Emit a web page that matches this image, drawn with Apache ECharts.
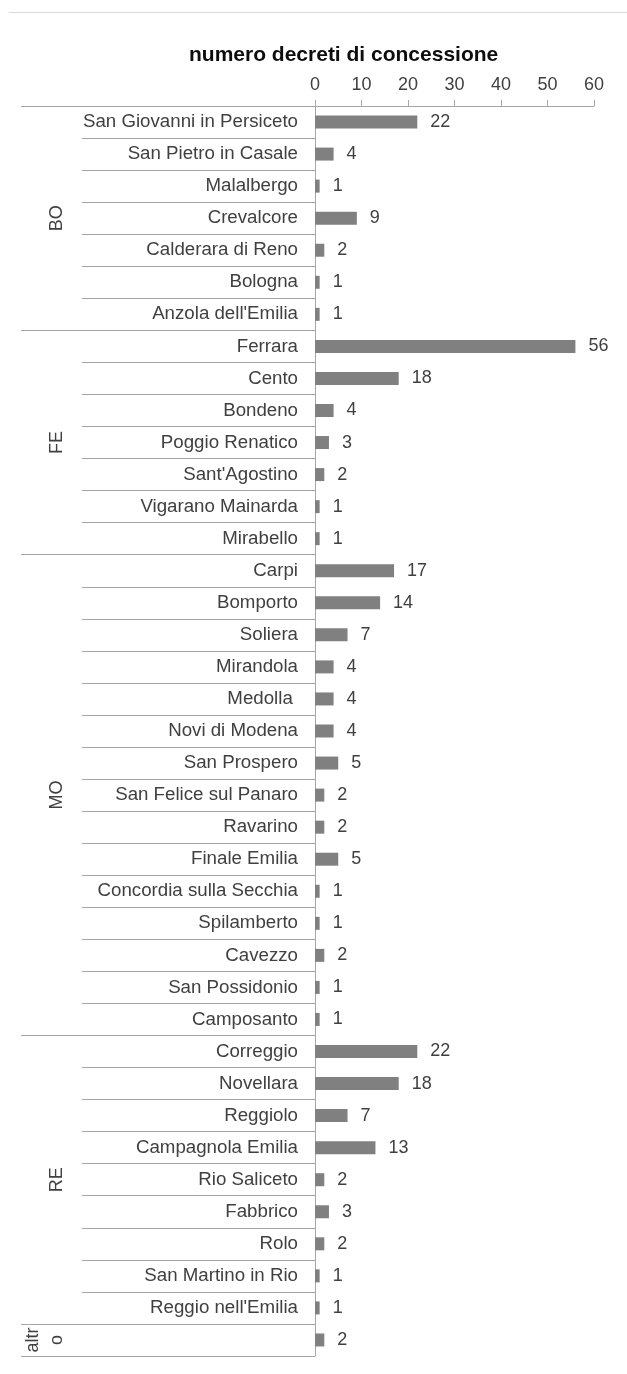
<!DOCTYPE html>
<html>
<head>
<meta charset="utf-8">
<script src="https://cdn.jsdelivr.net/npm/echarts@6.0.0/dist/echarts.min.js"></script>
<style>
html, body { margin: 0; padding: 0; background: #fff; }
#chart { width: 627px; height: 1374px; }
</style>
</head>
<body>
<div id="chart"></div>
<script>
// comuni e numero di decreti, nell'ordine del grafico (dall'alto)
const comuni = [
  'San Giovanni in Persiceto', 'San Pietro in Casale', 'Malalbergo', 'Crevalcore',
  'Calderara di Reno', 'Bologna', "Anzola dell'Emilia",
  'Ferrara', 'Cento', 'Bondeno', 'Poggio Renatico', "Sant'Agostino", 'Vigarano Mainarda', 'Mirabello',
  'Carpi', 'Bomporto', 'Soliera', 'Mirandola', 'Medolla ', 'Novi di Modena', 'San Prospero',
  'San Felice sul Panaro', 'Ravarino', 'Finale Emilia', 'Concordia sulla Secchia', 'Spilamberto',
  'Cavezzo', 'San Possidonio', 'Camposanto',
  'Correggio', 'Novellara', 'Reggiolo', 'Campagnola Emilia', 'Rio Saliceto', 'Fabbrico', 'Rolo',
  'San Martino in Rio', "Reggio nell'Emilia",
  ''
]
const decreti = [
  22, 4, 1, 9, 2, 1, 1,
  56, 18, 4, 3, 2, 1, 1,
  17, 14, 7, 4, 4, 4, 5, 2, 2, 5, 1, 1, 2, 1, 1,
  22, 18, 7, 13, 2, 3, 2, 1, 1,
  2
]
const province = ['BO', 'FE', 'MO', 'RE', 'altro']
const numComuni = [7, 7, 15, 9, 1]
const xTicks = [0, 60, 10] // min, max, passo

// provincia di ogni riga, e indici di inizio / centro dei gruppi
var provRiga = []
var inizioGruppo = []
var centroGruppo = []
for (var g = 0; g < province.length; g++) {
  inizioGruppo.push(provRiga.length)
  centroGruppo.push(provRiga.length + (numComuni[g] - 1) / 2)
  for (var k = 0; k < numComuni[g]; k++) provRiga.push(province[g])
}

const font = "'Liberation Sans', Arial, sans-serif"
const grigio = '#a6a6a6'
const testo = '#404040'

var chart = echarts.init(document.getElementById('chart'))
chart.setOption({
  animation: false,
  title: {
    text: 'numero decreti di concessione',
    left: 189,
    top: 45,
    padding: 0,
    textStyle: { fontFamily: font, fontSize: 21, fontWeight: 'bold', color: '#0d0d0d' }
  },
  graphic: [{
    type: 'line',
    shape: { x1: 9, y1: 12.5, x2: 627, y2: 12.5 },
    style: { stroke: '#d9d9d9', lineWidth: 1 }
  }],
  grid: {
    left: 315,
    right: 33,
    top: 106,
    height: 1250,
    containLabel: false,
    outerBoundsMode: 'none'
  },
  xAxis: {
    type: 'value',
    position: 'top',
    min: xTicks[0],
    max: xTicks[1],
    interval: xTicks[2],
    axisLine: { show: true, lineStyle: { color: grigio } },
    axisTick: { show: true, length: 6, lineStyle: { color: grigio } },
    splitLine: { show: false },
    axisLabel: { margin: 12, fontFamily: font, fontSize: 18, color: testo }
  },
  yAxis: [
    {
      type: 'category',
      inverse: true,
      data: comuni,
      axisLine: { show: true, lineStyle: { color: grigio } },
      axisTick: { show: true, interval: 0, length: 233, lineStyle: { color: grigio } },
      axisLabel: { interval: 0, margin: 17, fontFamily: font, fontSize: 18.7, color: testo }
    },
    {
      type: 'category',
      inverse: true,
      position: 'left',
      data: provRiga,
      axisLine: { show: false },
      axisTick: {
        show: true,
        length: 294,
        lineStyle: { color: grigio },
        interval: function (idx) { return inizioGruppo.indexOf(idx) >= 0 }
      },
      axisLabel: {
        rotate: 90,
        margin: 246,
        fontFamily: font,
        fontSize: 18,
        color: testo,
        width: 30,
        overflow: 'breakAll',
        lineHeight: 24,
        interval: function (idx) { return centroGruppo.indexOf(idx) >= 0 }
      }
    }
  ],
  series: [{
    type: 'bar',
    yAxisIndex: 0,
    data: decreti,
    barWidth: 13,
    itemStyle: { color: '#808080' },
    label: {
      show: true,
      position: 'right',
      distance: 13,
      fontFamily: font,
      fontSize: 18,
      color: testo
    }
  }]
})
</script>
</body>
</html>
